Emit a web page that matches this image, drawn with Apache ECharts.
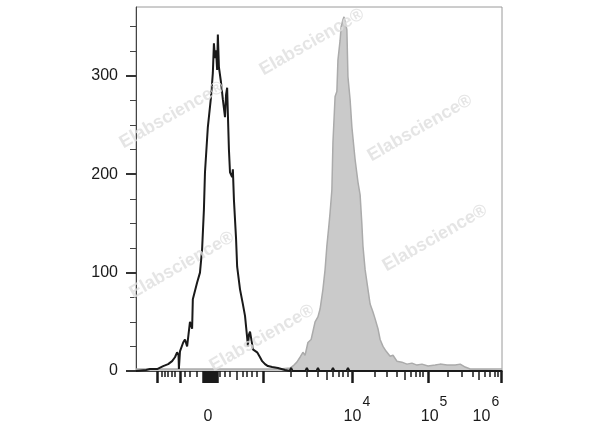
<!DOCTYPE html>
<html><head><meta charset="utf-8">
<script src="https://cdn.jsdelivr.net/npm/echarts@6/dist/echarts.min.js"></script>
<style>html,body{margin:0;padding:0;background:#fff}#c{width:600px;height:427px}</style>
</head><body><div id="c"></div>
<script>
// x values are display channels (0-1024) of the biexponential fluorescence axis, y values are cell counts
const unstainedX = [0, 28, 39, 59, 76, 90, 101, 109, 115, 119, 120, 123, 132, 137, 143, 151, 157, 159, 171, 179, 185, 190, 193, 196, 201, 210, 215, 218, 221, 224, 227, 229, 232, 238, 243, 249, 252, 255, 257, 260, 263, 269, 271, 274, 280, 283, 291, 299, 305, 311, 313, 316, 319, 325, 327, 339, 347, 353, 361, 369, 381, 397, 417, 430, 434, 438, 474, 478, 482, 505, 509, 513, 547, 551, 555, 589, 593, 597, 1024];
const unstainedY = [0, 1, 2, 2, 5, 7, 10, 14, 19, 16, 2, 20, 29, 32, 25, 50, 43, 73, 90, 100, 124, 164, 202, 200, 248, 279, 303, 333, 318, 326, 306, 342, 309, 293, 276, 258, 281, 288, 262, 225, 202, 197, 205, 174, 134, 106, 83, 68, 56, 34, 25, 37, 40, 27, 22, 19, 14, 10, 7, 5, 4, 3, 1, 0, 3, 0, 0, 3, 0, 0, 3, 0, 0, 3, 0, 0, 3, 0, 0];
const stainedX = [0, 403, 431, 442, 450, 459, 467, 473, 481, 490, 501, 509, 515, 523, 529, 534, 540, 543, 548, 551, 557, 560, 562, 565, 571, 574, 579, 582, 585, 590, 593, 599, 604, 613, 621, 627, 632, 635, 641, 649, 655, 663, 669, 677, 683, 691, 700, 711, 719, 730, 744, 758, 772, 786, 800, 817, 837, 851, 870, 893, 907, 921, 935, 1024];
const stainedY = [2, 2, 3, 6, 9, 14, 19, 16, 29, 32, 50, 55, 63, 83, 103, 127, 149, 161, 184, 232, 279, 281, 284, 316, 336, 350, 357, 360, 355, 347, 299, 276, 248, 215, 192, 179, 149, 127, 103, 83, 68, 60, 53, 43, 32, 25, 20, 15, 16, 10, 9, 7, 8, 6, 7, 5, 6, 7, 6, 6, 7, 4, 2, 2];

// axis ticks (display channels)
const xMajorTicks = [59, 123, 187, 190, 193, 196, 199, 202, 204, 207, 210, 213, 215, 218, 221, 224, 227, 355, 604, 817, 1023];
const xMediumTicks = [283, 534, 753, 960];
const xMinorTicks = [73, 81, 90, 101, 109, 137, 151, 171, 235, 249, 263, 299, 311, 325, 338, 434, 478, 509, 551, 568, 579, 593, 669, 702, 730, 769, 783, 795, 803, 873, 912, 943, 976, 990, 1004, 1013];
const xLabelPos = [201, 618, 834, 979];
const xLabelBase = ['0', '10', '10', '10'];
const xLabelExp = ['', '4', '5', '6'];
const yMajorTicks = [0, 100, 200, 300];
const yMinorTicks = [25, 50, 75, 125, 150, 175, 225, 250, 275, 325, 350];
const watermark = 'Elabscience®';

const FONT = "'Liberation Sans', Arial, sans-serif";
const pairs = (xs, ys) => xs.map((x, i) => [x, ys[i]]);

function xAxisBase(extra) {
  return Object.assign({
    type: 'value', min: 0, max: 1024, gridIndex: 0, position: 'bottom',
    axisLine: { show: false }, splitLine: { show: false },
    axisLabel: { show: false }, axisTick: { show: false }
  }, extra);
}
function yAxisBase(extra) {
  return Object.assign({
    type: 'value', min: 0, max: 370, position: 'left',
    axisLine: { show: false }, splitLine: { show: false },
    axisLabel: { show: false }, axisTick: { show: false }
  }, extra);
}

const chart = echarts.init(document.getElementById('c'), null, { renderer: 'canvas' });
const wmPos = [[312, 42], [172, 115], [420, 128], [182, 265], [435, 238], [262, 338]];
chart.setOption({
  animation: false,
  grid: { left: 136, right: 98, top: 7, bottom: 56, show: true, borderColor: '#9a9a9a', borderWidth: 1 },
  xAxis: [
    xAxisBase({ axisLine: { show: true, lineStyle: { color: '#1a1a1a', width: 1.5 } },
      axisTick: { show: true, customValues: xMajorTicks, length: 12, lineStyle: { color: '#1a1a1a', width: 2.5 } } }),
    xAxisBase({ axisTick: { show: true, customValues: xMediumTicks, length: 9, lineStyle: { color: '#1a1a1a', width: 1.5 } } }),
    xAxisBase({ axisTick: { show: true, customValues: xMinorTicks, length: 6, lineStyle: { color: '#1a1a1a', width: 1.5 } } }),
    xAxisBase({ axisLabel: { show: true, customValues: xLabelPos, margin: 24,
      formatter: function (v) {
        const i = xLabelPos.indexOf(v);
        if (i < 0) return '';
        return '{b|' + xLabelBase[i] + '}' + (xLabelExp[i] ? '{s|' + xLabelExp[i] + '}' : '');
      },
      rich: {
        b: { fontSize: 16, fontFamily: FONT, color: '#1a1a1a', lineHeight: 30, verticalAlign: 'bottom' },
        s: { fontSize: 14, fontFamily: FONT, color: '#1a1a1a', lineHeight: 19, verticalAlign: 'top', padding: [0, 0, 0, 1] }
      } } })
  ],
  yAxis: [
    yAxisBase({ axisLine: { show: true, lineStyle: { color: '#444', width: 1 } },
      axisTick: { show: true, customValues: yMajorTicks, length: 10, lineStyle: { color: '#333', width: 2 } },
      axisLabel: { show: true, customValues: yMajorTicks, margin: 18, fontSize: 16, fontFamily: FONT, color: '#1a1a1a' } }),
    yAxisBase({ axisTick: { show: true, customValues: yMinorTicks, length: 6, lineStyle: { color: '#444', width: 1 } } })
  ],
  series: [
    { type: 'line', name: 'stained', data: pairs(stainedX, stainedY), showSymbol: false, smooth: false,
      lineStyle: { color: '#ababab', width: 1.5 }, areaStyle: { color: '#cacaca', opacity: 1 }, z: 2 },
    { type: 'line', name: 'unstained', data: pairs(unstainedX, unstainedY), showSymbol: false, smooth: false,
      lineStyle: { color: '#1a1a1a', width: 2 }, z: 3 }
  ],
  graphic: wmPos.map(p => ({
    type: 'text', x: p[0], y: p[1], rotation: 0.52, z: 100, silent: true,
    style: { text: watermark, font: 'bold 18px ' + FONT, fill: 'rgba(222,222,222,0.8)', align: 'center', verticalAlign: 'middle' }
  }))
});
</script>
</body></html>
